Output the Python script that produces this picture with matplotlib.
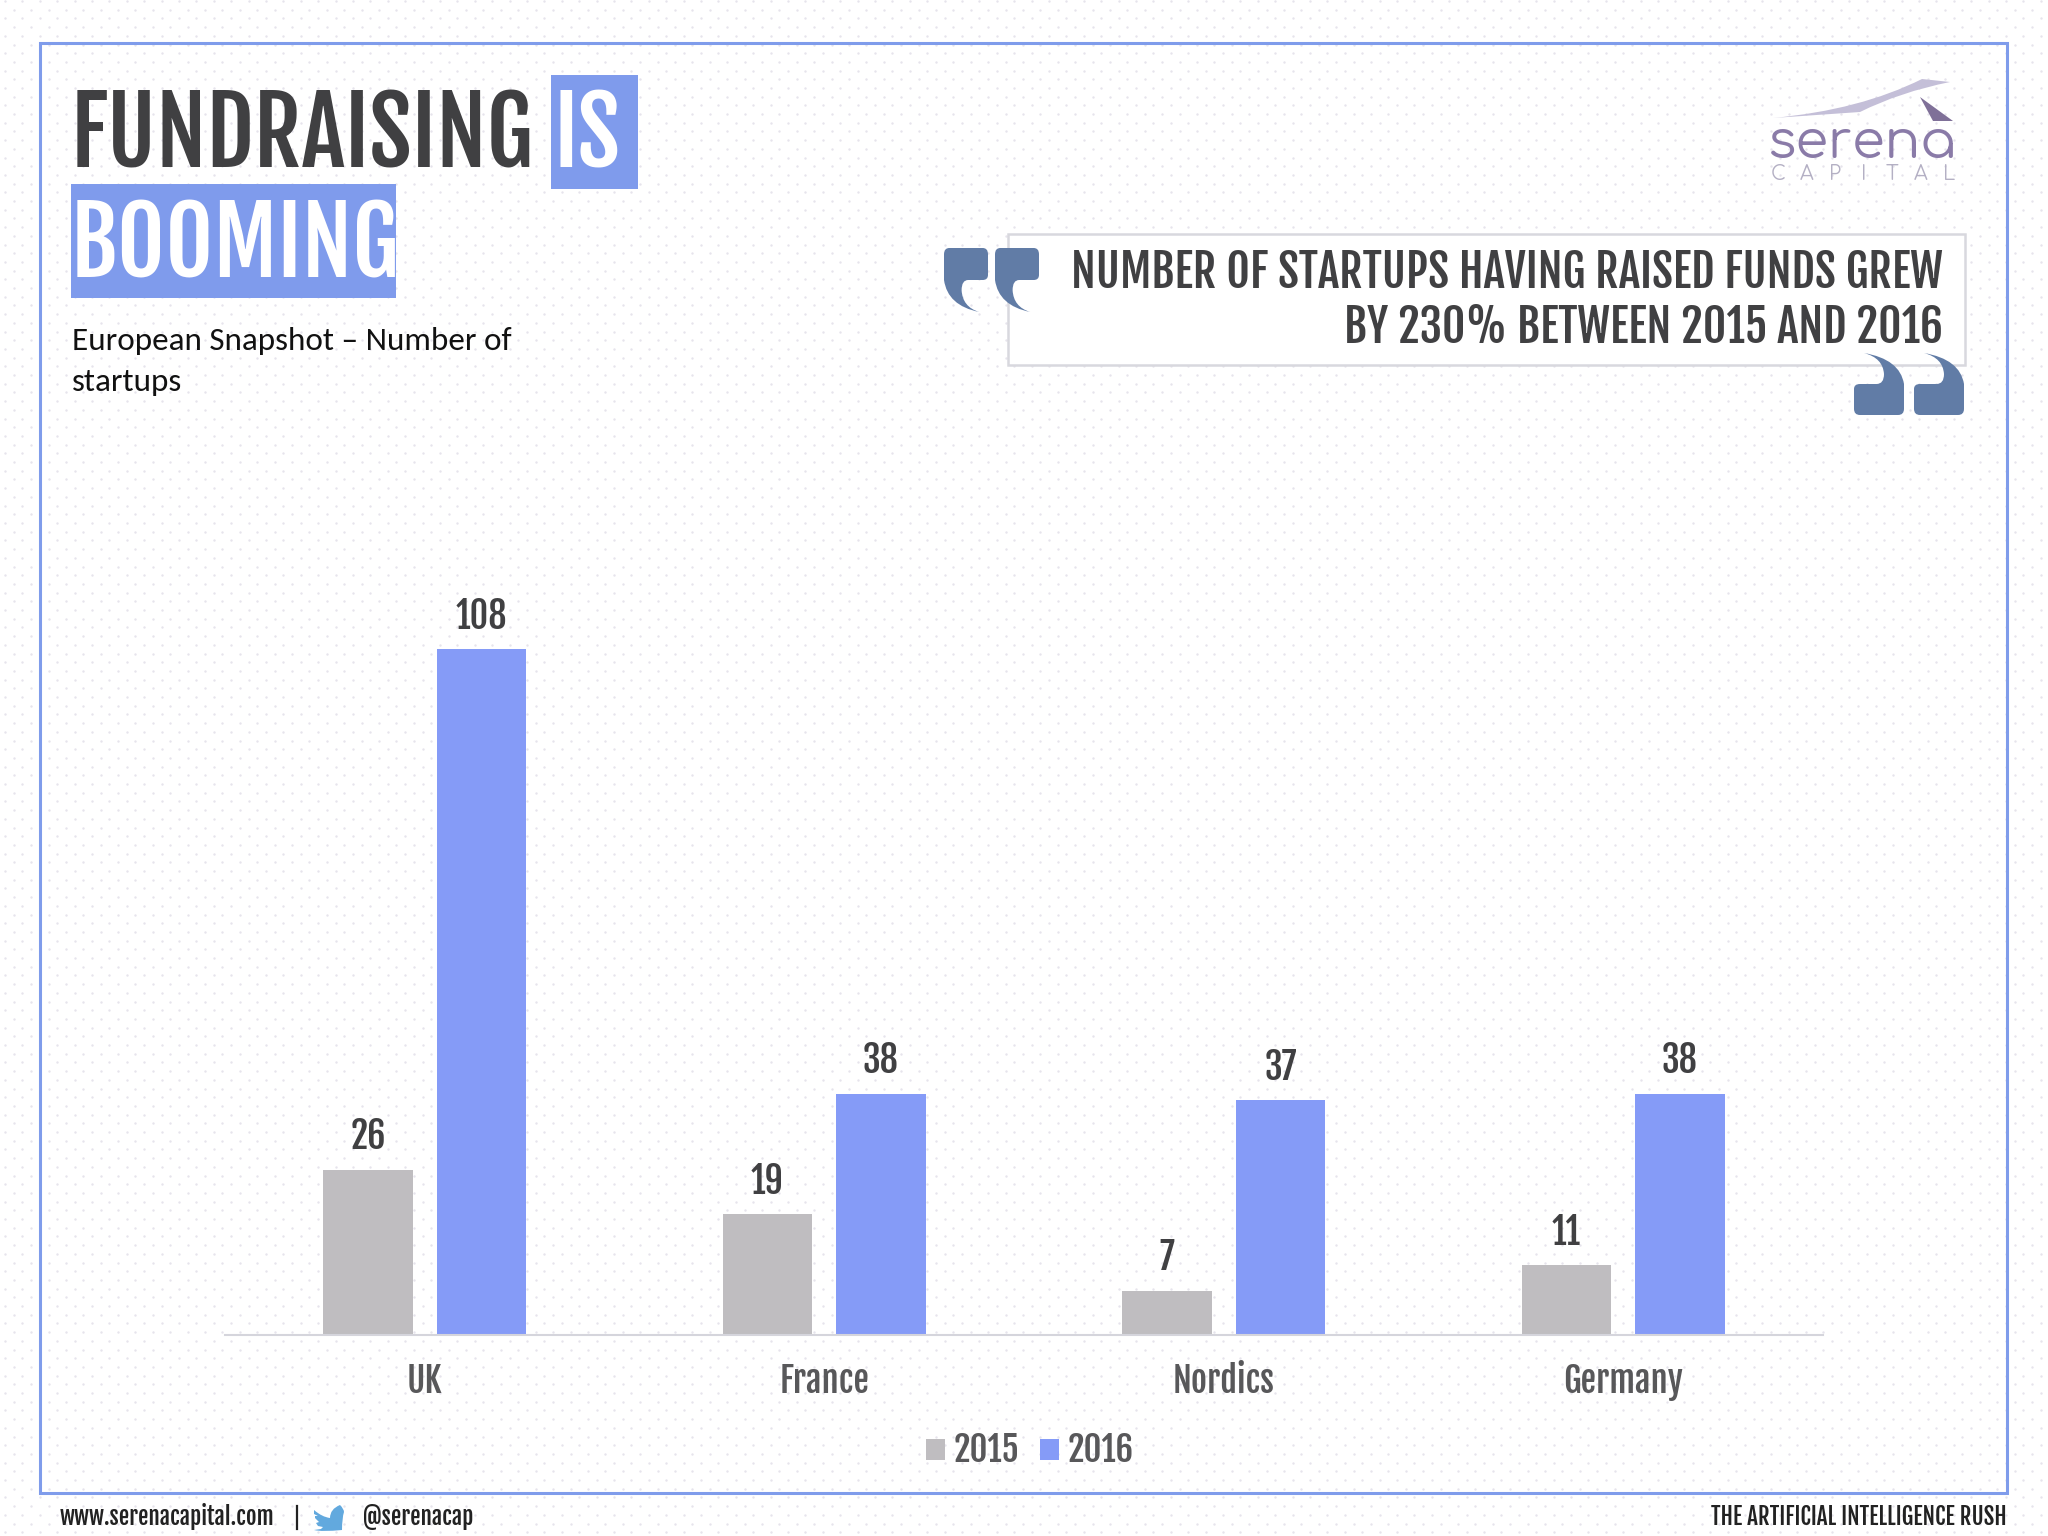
import numpy as np
import matplotlib
matplotlib.use("Agg")
import matplotlib.pyplot as plt
from matplotlib.patches import Rectangle, PathPatch, Polygon
from matplotlib.path import Path

regions = ["UK", "France", "Nordics", "Germany"]
startups_2015 = [26, 19, 7, 11]
startups_2016 = [108, 38, 37, 38]

GREY = "#bfbdc0"
BLUE = "#859bf7"
FRAME = "#7f9ceb"
HILITE = "#7f9bec"
DARK = "#404042"
QUOTE = "#617ca6"
W, H = 2048, 1536
CAPITAL = "CAPITAL"


def quote_mark(ax, x0, x1, y0, y1, flip=False):
    # rounded block with a curved tail
    verts = [(0.12, 0), (0.88, 0), (1, 0), (1, 0.1), (1, 0.42), (1, 0.5), (0.88, 0.5),
             (0.55, 0.5), (0.40, 0.5), (0.40, 0.66), (0.42, 0.92), (0.80, 1), (0.08, 0.90), (0, 0.5),
             (0, 0.1), (0, 0), (0.12, 0), (0.12, 0)]
    codes = [Path.MOVETO, Path.LINETO, Path.CURVE3, Path.CURVE3, Path.LINETO, Path.CURVE3, Path.CURVE3,
             Path.LINETO, Path.CURVE3, Path.CURVE3, Path.CURVE3, Path.CURVE3, Path.CURVE3, Path.CURVE3,
             Path.LINETO, Path.CURVE3, Path.CURVE3, Path.CLOSEPOLY]
    v = np.array(verts, dtype=float)
    if flip:
        v = 1 - v
    v[:, 0] = x0 + v[:, 0] * (x1 - x0)
    v[:, 1] = y0 + v[:, 1] * (y1 - y0)
    ax.add_patch(PathPatch(Path(v, codes), fc=QUOTE, ec="none", zorder=3))


plt.rcParams["font.family"] = ["Fjalla One", "DejaVu Sans"]
fig = plt.figure(figsize=(W / 100, H / 100), dpi=100, facecolor="white")

# page layer in pixel coordinates
bg = fig.add_axes([0, 0, 1, 1], zorder=0)
bg.set_xlim(0, W)
bg.set_ylim(H, 0)
bg.axis("off")

# dotted paper
px, py = np.meshgrid(np.arange(5, W, 17.4), np.arange(1, H, 17.4))
bg.scatter(px.ravel(), py.ravel(), s=3, c="#e6e4ec", lw=0, zorder=0)
bg.scatter(px.ravel() + 8.7, py.ravel() + 8.7, s=3, c="#e6e4ec", lw=0, zorder=0)

bg.add_patch(Rectangle((40, 43), 1967, 1450, fc="none", ec=FRAME, lw=2.2, zorder=1))

# title
bg.add_patch(Rectangle((551, 75), 87, 114, fc=HILITE, ec="none", zorder=1))
bg.add_patch(Rectangle((71, 184), 325, 114, fc=HILITE, ec="none", zorder=1))
bg.text(71, 168, "FUNDRAISING", fontsize=66.5, color=DARK, va="baseline", zorder=2)
bg.text(553, 168, "IS", fontsize=66.5, color="white", va="baseline", zorder=2)
bg.text(71, 277, "BOOMING", fontsize=66.5, color="white", va="baseline", zorder=2)
bg.text(72, 350, "European Snapshot \u2013 Number of", fontsize=23.9, family="Carlito", color="#111111",
        va="baseline", zorder=2)
bg.text(72, 391, "startups", fontsize=23.9, family="Carlito", color="#111111", va="baseline", zorder=2)

# callout
bg.add_patch(Rectangle((1008, 234), 957, 131, fc="white", ec="#d8d8de", lw=1.8, zorder=1))
bg.text(1943, 288, "NUMBER OF STARTUPS HAVING RAISED FUNDS GREW", fontsize=32.8, color=DARK,
        ha="right", va="baseline", zorder=2)
bg.text(1943, 343, "BY 230% BETWEEN 2015 AND 2016", fontsize=32.8, color=DARK,
        ha="right", va="baseline", zorder=2)
quote_mark(bg, 944, 988, 248, 312)
quote_mark(bg, 995, 1039, 248, 312)
quote_mark(bg, 1854, 1904, 353, 415, flip=True)
quote_mark(bg, 1914, 1964, 353, 415, flip=True)

# logo
swoosh = Path([(1773, 118), (1860, 110), (1922, 79), (1950, 82), (1900, 92), (1860, 112), (1773, 118), (1773, 118)],
              [Path.MOVETO, Path.CURVE3, Path.CURVE3, Path.LINETO, Path.CURVE3, Path.CURVE3, Path.LINETO, Path.CLOSEPOLY])
bg.add_patch(PathPatch(swoosh, fc="#c4bfd8", ec="none", zorder=2))
bg.add_patch(Polygon([(1920, 97), (1953, 121), (1933, 121)], fc="#7f7098", ec="none", zorder=2))
bg.text(1862, 158, "serena", fontsize=38, family="Comfortaa", fontweight="bold", color="#8a7ba8",
        ha="center", va="baseline", zorder=2)
for i, c in enumerate(CAPITAL):
    bg.text(1778 + i * 28.5, 180, c, fontsize=14, family="Comfortaa", color="#b4b0c4", ha="center", va="baseline", zorder=2)

# footer
bg.text(60, 1525, "www.serenacapital.com", fontsize=16.7, color="#222222", va="baseline", zorder=2)
bg.plot([297, 297], [1506, 1529], color="#222222", lw=1.6, zorder=2)
bird = Path([(314, 1510), (322, 1517), (330, 1518), (330, 1509), (340, 1505), (344, 1509), (344, 1512), (342, 1518),
             (342, 1530), (322, 1532), (314, 1530), (321, 1529), (323, 1527), (318, 1526), (316, 1523), (319, 1522),
             (315, 1518), (315, 1516), (318, 1516), (314, 1514), (314, 1510), (314, 1510)],
            [Path.MOVETO, Path.CURVE3, Path.CURVE3, Path.CURVE3, Path.CURVE3, Path.CURVE3, Path.CURVE3, Path.CURVE3,
             Path.CURVE3, Path.CURVE3, Path.CURVE3, Path.LINETO, Path.LINETO, Path.LINETO, Path.LINETO, Path.LINETO,
             Path.LINETO, Path.LINETO, Path.LINETO, Path.LINETO, Path.LINETO, Path.CLOSEPOLY])
bg.add_patch(PathPatch(bird, fc="#62a9de", ec="none", zorder=2))
bg.text(363, 1525, "@serenacap", fontsize=16.7, color="#222222", va="baseline", zorder=2)
bg.text(2007, 1525, "THE ARTIFICIAL INTELLIGENCE RUSH", fontsize=16.5, color="#222222", ha="right", va="baseline", zorder=2)

# chart
base_px, top_px = 1335, 573
ax = fig.add_axes([225 / W, (H - base_px) / H, (1823 - 225) / W, (base_px - top_px) / H], zorder=1)
ax.patch.set_alpha(0)
x = np.arange(len(regions))
bars15 = ax.bar(x - 0.142, startups_2015, 0.225, color=GREY, label="2015")
bars16 = ax.bar(x + 0.142, startups_2016, 0.225, color=BLUE, label="2016")
ax.bar_label(bars15, padding=9, fontsize=26, color=DARK)
ax.bar_label(bars16, padding=9, fontsize=26, color=DARK)
ax.set_xlim(-0.5, 3.5)
ax.set_ylim(0, 120)
ax.set_xticks(x, regions)
ax.set_yticks([])
ax.tick_params(axis="x", length=0, pad=19.5, labelsize=25, labelcolor="#58585a")
for s in ["top", "left", "right"]:
    ax.spines[s].set_visible(False)
ax.spines["bottom"].set_color("#d5d5dc")
ax.spines["bottom"].set_linewidth(1.5)
leg = ax.legend(loc="center", bbox_to_anchor=(1030 / W, (H - 1450) / H), bbox_transform=fig.transFigure,
                ncols=2, frameon=False, fontsize=25, handlelength=0.55, handleheight=0.55,
                handletextpad=0.25, columnspacing=0.6, labelcolor="#58585a")

fig.savefig("out.png", dpi=100)
